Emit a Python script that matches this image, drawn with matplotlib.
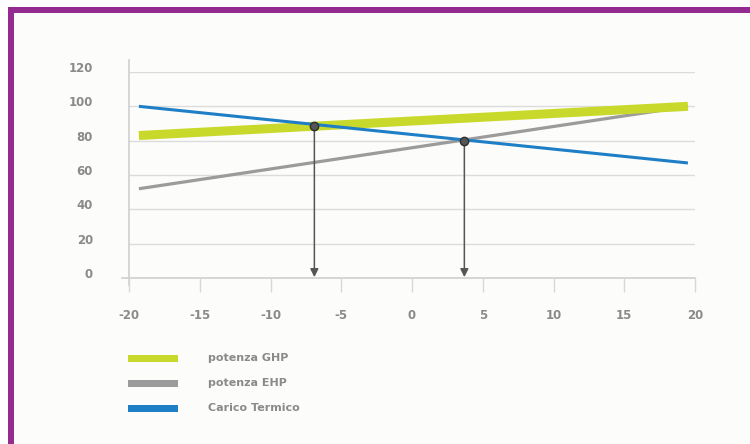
import matplotlib
matplotlib.use("Agg")
import matplotlib.pyplot as plt
from matplotlib.patches import Rectangle
from matplotlib.transforms import ScaledTranslation

plt.rcParams["axes.unicode_minus"] = False

# temperature esterna (x) e valori (%) delle tre rette
x_ends = [-19.3, 19.5]
ghp = [83, 100]        # potenza GHP
ehp = [52, 100]        # potenza EHP
carico = [100, 67]     # Carico Termico

# punti di bilanciamento (intersezioni)
bal_x = [-6.9, 3.7]
bal_y = [88.5, 80]

xticks = [-20, -15, -10, -5, 0, 5, 10, 15, 20]
yticks = [0, 20, 40, 60, 80, 100, 120]

legend_labels = ["potenza GHP", "potenza EHP", "Carico Termico"]
colors = ["#c9d92c", "#9b9b9b", "#1f7fc6"]

W, H = 750, 444
fig = plt.figure(figsize=(7.5, 4.44), dpi=100, facecolor="white")

# sfondo e cornice viola
fig.patches.append(Rectangle((8 / W, 0), 1, (H - 7) / H, transform=fig.transFigure,
                             facecolor="#fcfcfa", edgecolor="none", zorder=-10))
fig.patches.append(Rectangle((8 / W, (H - 13) / H), 1, 6 / H, transform=fig.transFigure,
                             facecolor="#932b90", edgecolor="none", zorder=-5))
fig.patches.append(Rectangle((8 / W, 0), 6 / W, (H - 7) / H, transform=fig.transFigure,
                             facecolor="#932b90", edgecolor="none", zorder=-5))

ax = fig.add_axes([129 / W, (H - 278) / H, 566 / W, 206 / H])
ax.set_facecolor("none")
ax.set_xlim(-20, 20)
ax.set_ylim(0, 120)
for s in ax.spines.values():
    s.set_visible(False)

# griglia
for yv in yticks[1:]:
    ax.axhline(yv, color="#dcdcdc", lw=1, zorder=0)
ax.axhline(0, xmin=-0.013, xmax=1, color="#cfcfcf", lw=1.2, zorder=0, clip_on=False)
ax.axvline(-20, ymin=-0.035, ymax=1.06, color="#cfcfcf", lw=1.2, zorder=0, clip_on=False)

ax.set_xticks(xticks)
ax.set_yticks(yticks)
ax.tick_params(axis="x", direction="out", length=10, width=1, color="#d8d8d8",
               pad=12, labelsize=8.5, labelcolor="#8a8a8a")
ax.tick_params(axis="y", length=0, pad=26, labelsize=8.5, labelcolor="#8a8a8a")
for lab in ax.get_yticklabels():
    lab.set_fontweight("bold")
    lab.set_transform(lab.get_transform() + ScaledTranslation(0, 3.5 / 72, fig.dpi_scale_trans))
for lab in ax.get_xticklabels():
    lab.set_fontweight("bold")

ax.plot(x_ends, ehp, color=colors[1], lw=2.3, solid_capstyle="butt", zorder=2)
ax.plot(x_ends, ghp, color=colors[0], lw=6.5, solid_capstyle="butt", zorder=3)
ax.plot(x_ends, carico, color=colors[2], lw=2.2, solid_capstyle="butt", zorder=4)

for bx, by in zip(bal_x, bal_y):
    ax.annotate("", xy=(bx, 0.5), xytext=(bx, by),
                arrowprops=dict(arrowstyle="-|>", color="#555555", lw=1.1,
                                mutation_scale=12, shrinkA=0, shrinkB=0),
                zorder=5)
    ax.plot(bx, by, "o", ms=6, mfc="#555555", mec="#2e2e2e", mew=1, zorder=6)

# legenda
for i, (lab, c) in enumerate(zip(legend_labels, colors)):
    yc = 358 + 25 * i
    fig.patches.append(Rectangle((128 / W, (H - yc - 3.5) / H), 50 / W, 7 / H,
                                 transform=fig.transFigure, facecolor=c, edgecolor="none"))
    fig.text(208 / W, (H - yc) / H, lab, ha="left", va="center", fontsize=8,
             fontweight="bold", color="#8a8a8a")

fig.savefig("out.png", dpi=100, facecolor="white")
